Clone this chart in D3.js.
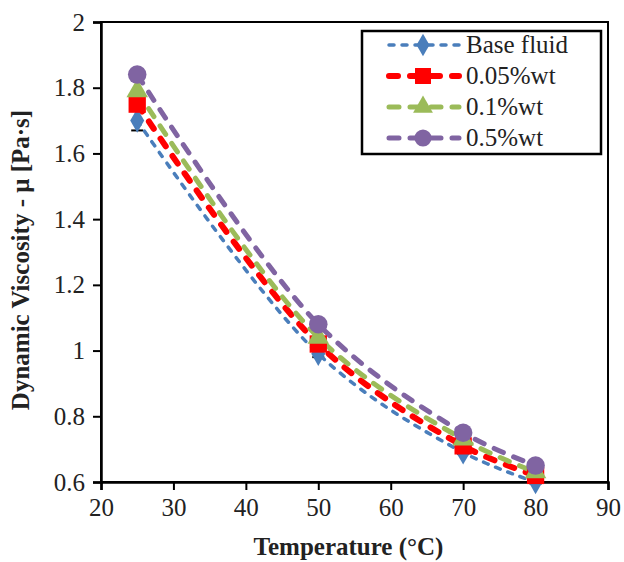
<!DOCTYPE html>
<html>
<head>
<meta charset="utf-8">
<script src="https://cdn.jsdelivr.net/npm/d3@7"></script>
<style>
  body { margin: 0; background: #fff; }
  text { font-family: "Liberation Serif", "Times New Roman", serif; }
</style>
</head>
<body>
<div class="chart"></div>
<script>
const temps = [25, 50, 70, 80];
const seriesNames = ['Base fluid', '0.05%wt', '0.1%wt', '0.5%wt'];
const baseFluid = [1.70, 0.99, 0.69, 0.60];
const wt005 = [1.75, 1.02, 0.71, 0.62];
const wt01 = [1.79, 1.04, 0.73, 0.63];
const wt05 = [1.84, 1.08, 0.75, 0.65];
const baseErr = [0.03, 0.01, 0.005, 0.005];
const xTicks = [20, 30, 40, 50, 60, 70, 80, 90];
const yTicks = [0.6, 0.8, 1, 1.2, 1.4, 1.6, 1.8, 2];

const margin = {top: 22, left: 101, right: 16, bottom: 80};
const width = 624 - margin.left - margin.right;
const height = 562 - margin.top - margin.bottom;

const styles = [
    {color: '#4a7ebb', width: 3.5, dash: '5,8', marker: 'diamond', size: 170},
    {color: '#ff0000', width: 6, dash: '9,12', marker: 'square', size: 300},
    {color: '#9bbb59', width: 5, dash: '10,11', marker: 'triangle', size: 200},
    {color: '#8064a2', width: 5, dash: '10,11', marker: 'circle', size: 270}
];
const symbolOf = {diamond: d3.symbolDiamond, square: d3.symbolSquare, triangle: d3.symbolTriangle, circle: d3.symbolCircle};

const allSeries = [baseFluid, wt005, wt01, wt05].map((vals, i) => ({
    name: seriesNames[i],
    style: styles[i],
    points: temps.map((t, j) => ({x: t, y: vals[j], err: i === 0 ? baseErr[j] : 0}))
}));

let svg = d3.select('.chart')
    .append('svg')
    .attr('width', 624)
    .attr('height', 562)
    .append('g')
    .attr('transform', `translate(${margin.left},${margin.top})`);

let xScale = d3.scaleLinear().domain([20, 90]).range([0, width]);
let yScale = d3.scaleLinear().domain([0.6, 2]).range([height, 0]);

// frame
svg.append('rect')
    .attr('width', width).attr('height', height)
    .attr('fill', 'none').attr('stroke', 'black').attr('stroke-width', 2);

svg.append('g')
    .attr('transform', `translate(0,${height})`)
    .call(d3.axisBottom(xScale).tickValues(xTicks).tickSize(8).tickPadding(8).tickFormat(d3.format('d')))
    .call(g => g.select('.domain').attr('stroke-width', 2.5))
    .call(g => g.selectAll('.tick line').attr('stroke-width', 2))
    .call(g => g.selectAll('.tick text').attr('font-size', 25).attr('fill', '#222').attr('font-family', 'Liberation Serif'));

svg.append('g')
    .call(d3.axisLeft(yScale).tickValues(yTicks).tickSize(8).tickPadding(8).tickFormat(d => d3.format('')(+d.toFixed(1))))
    .call(g => g.select('.domain').attr('stroke-width', 2.5))
    .call(g => g.selectAll('.tick line').attr('stroke-width', 2))
    .call(g => g.selectAll('.tick text').attr('font-size', 25).attr('fill', '#222').attr('font-family', 'Liberation Serif'));

// axis titles
svg.append('text')
    .attr('x', width / 2 - 6).attr('y', height + 73)
    .attr('text-anchor', 'middle').attr('font-size', 25).attr('font-weight', 700).attr('fill', '#222')
    .text('Temperature (°C)');

svg.append('text')
    .attr('transform', `translate(${-72},${height / 2 + 8}) rotate(-90)`)
    .attr('text-anchor', 'middle').attr('font-size', 25).attr('font-weight', 700).attr('fill', '#222')
    .text('Dynamic Viscosity - μ [Pa·s]');

const line = d3.line()
    .curve(d3.curveCatmullRom.alpha(0.5))
    .x(d => xScale(d.x))
    .y(d => yScale(d.y));

// error bars
allSeries.forEach(s => {
    s.points.filter(p => p.err > 0).forEach(p => {
        const x = xScale(p.x);
        svg.append('line').attr('x1', x).attr('x2', x)
            .attr('y1', yScale(p.y - p.err)).attr('y2', yScale(p.y + p.err))
            .attr('stroke', 'black').attr('stroke-width', 1.5);
        [p.y - p.err, p.y + p.err].forEach(v => {
            svg.append('line').attr('x1', x - 6).attr('x2', x + 6)
                .attr('y1', yScale(v)).attr('y2', yScale(v))
                .attr('stroke', 'black').attr('stroke-width', 2);
        });
    });
});

allSeries.forEach(s => {
    svg.append('path')
        .datum(s.points)
        .attr('fill', 'none')
        .attr('stroke', s.style.color)
        .attr('stroke-width', s.style.width)
        .attr('stroke-dasharray', s.style.dash)
        .attr('stroke-linecap', 'round')
        .attr('d', line);
});

allSeries.forEach(s => {
    svg.append('g').selectAll('path')
        .data(s.points)
        .join('path')
        .attr('transform', d => `translate(${xScale(d.x)},${yScale(d.y)})`)
        .attr('d', d3.symbol().type(symbolOf[s.style.marker]).size(s.style.size))
        .attr('fill', s.style.color);
});

// legend
const legend = svg.append('g').attr('transform', 'translate(261,9)');
legend.append('rect')
    .attr('width', 239).attr('height', 123)
    .attr('fill', 'white').attr('stroke', 'black').attr('stroke-width', 2.5);

allSeries.forEach((s, i) => {
    const row = legend.append('g').attr('transform', `translate(0,${14 + i * 31})`);
    row.append('line')
        .attr('x1', 27).attr('x2', 97)
        .attr('stroke', s.style.color).attr('stroke-width', s.style.width)
        .attr('stroke-dasharray', s.style.dash).attr('stroke-linecap', 'round');
    row.append('path')
        .attr('transform', 'translate(61,0)')
        .attr('d', d3.symbol().type(symbolOf[s.style.marker]).size(s.style.size * 0.85))
        .attr('fill', s.style.color);
    row.append('text')
        .attr('x', 104).attr('y', 8)
        .attr('font-size', 25).attr('fill', '#222')
        .text(s.name);
});
</script>
</body>
</html>
